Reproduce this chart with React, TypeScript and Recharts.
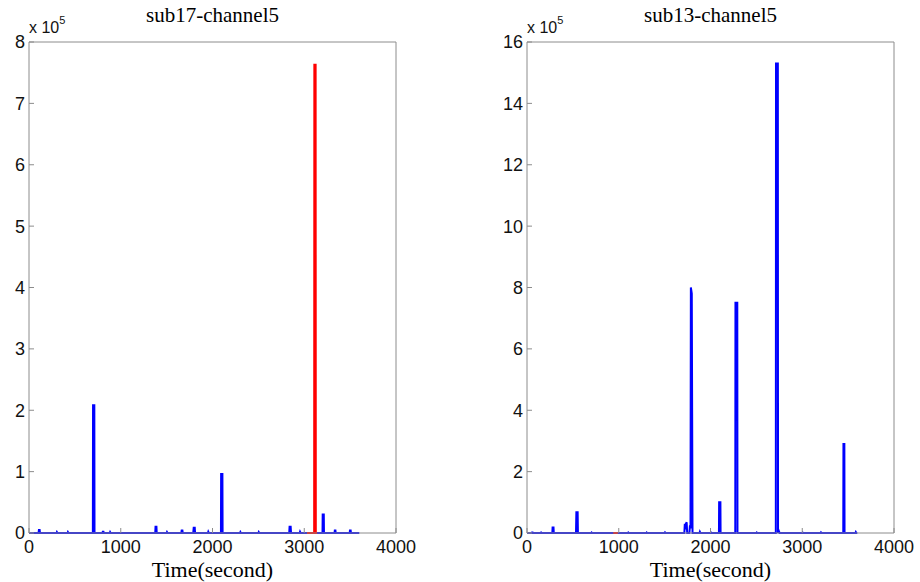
import { LineChart, Line, XAxis, YAxis } from 'recharts'

// [time (s), amplitude (x 1e5)]
const sub17Blue: [number, number][] = [
  [0, 0], [104, 0], [108, 0.05], [116, 0.05], [120, 0],
  [300, 0], [304, 0.015], [310, 0], [420, 0], [424, 0.015], [430, 0],
  [696, 0], [698, 2.08], [712, 2.08], [714, 0],
  [800, 0], [804, 0.02], [812, 0.02], [816, 0], [880, 0], [884, 0.015], [890, 0],
  [1376, 0], [1379, 0.1], [1389, 0.1], [1392, 0],
  [1500, 0], [1504, 0.015], [1510, 0],
  [1660, 0], [1664, 0.04], [1672, 0.04], [1676, 0],
  [1790, 0], [1796, 0.1], [1800, 0.05], [1806, 0.1], [1810, 0],
  [1950, 0], [1954, 0.02], [1960, 0],
  [2092, 0], [2094, 0.96], [2108, 0.96], [2110, 0],
  [2300, 0], [2304, 0.015], [2310, 0], [2500, 0], [2504, 0.015], [2510, 0],
  [2836, 0], [2840, 0.1], [2852, 0.1], [2856, 0],
  [2950, 0], [2954, 0.02], [2960, 0],
  [3199, 0], [3201, 0.3], [3213, 0.3], [3215, 0],
  [3330, 0], [3333, 0.04], [3340, 0.04], [3343, 0],
  [3495, 0], [3498, 0.04], [3506, 0.04], [3509, 0],
  [3600, 0],
]

const sub17Red: [number, number][] = [
  [3030, 0], [3108, 0], [3109, 3.8], [3110, 7.63], [3124, 7.63], [3125, 3.8], [3126, 0], [3140, 0],
]

const sub13Blue: [number, number][] = [
  [0, 0], [50, 0], [54, 0.02], [62, 0.02], [66, 0],
  [150, 0], [154, 0.015], [160, 0],
  [276, 0], [279, 0.18], [289, 0.18], [292, 0],
  [534, 0], [536, 0.35], [538, 0.68], [552, 0.68], [555, 0],
  [700, 0], [704, 0.015], [710, 0],
  [1100, 0], [1104, 0.015], [1110, 0], [1300, 0], [1304, 0.015], [1310, 0],
  [1500, 0], [1504, 0.02], [1510, 0],
  [1715, 0], [1720, 0.3], [1726, 0.12], [1732, 0.3], [1740, 0.35], [1746, 0],
  [1770, 0], [1776, 0.25], [1782, 0.15],
  [1786, 8.0], [1796, 7.8], [1800, 3.9], [1804, 0],
  [1880, 0], [1884, 0.04], [1890, 0],
  [2000, 0], [2004, 0.02], [2010, 0],
  [2092, 0], [2094, 1.0], [2108, 1.0], [2110, 0],
  [2270, 0], [2272, 7.5], [2292, 7.5], [2294, 0],
  [2500, 0], [2504, 0.015], [2510, 0],
  [2712, 0], [2714, 15.3], [2734, 15.3], [2736, 0], [2746, 0.06], [2754, 0],
  [3000, 0], [3004, 0.015], [3010, 0], [3200, 0], [3204, 0.02], [3210, 0],
  [3447, 0], [3449, 2.9], [3459, 2.9], [3461, 0],
  [3580, 0], [3584, 0.03], [3590, 0], [3600, 0],
]

const sub13Red: [number, number][] = [[940, 0], [990, 0]]

const xTicks = [0, 1000, 2000, 3000, 4000]
const sub17YTicks = [0, 1, 2, 3, 4, 5, 6, 7, 8]
const sub13YTicks = [0, 2, 4, 6, 8, 10, 12, 14, 16]

const AXIS_COLOR = '#8c8c8c'
const TICK_FONT = { fill: '#111', fontSize: 18, fontFamily: 'Liberation Sans, Arial, sans-serif' }
const SERIF = 'Liberation Serif, Times New Roman, serif'

const toRows = (pts: [number, number][]) => pts.map(([t, v]) => ({ t, v }))

function Panel({
  left, title, blue, red, yMax, yTicks, yAxisWidth, rightMargin,
}: {
  left: number
  title: string
  blue: [number, number][]
  red: [number, number][]
  yMax: number
  yTicks: number[]
  yAxisWidth: number
  rightMargin: number
}) {
  return (
    <div style={{ position: 'absolute', left, top: 0 }}>
      <LineChart width={460} height={582} margin={{ top: 41, right: rightMargin, bottom: 0, left: 0 }}>
        <XAxis
          xAxisId="bottom"
          dataKey="t"
          type="number"
          domain={[0, 4000]}
          ticks={xTicks}
          height={49}
          tickSize={-5}
          tickMargin={12}
          stroke={AXIS_COLOR}
          tick={TICK_FONT}
          label={{
            value: 'Time(second)',
            position: 'insideBottom',
            offset: 5,
            fill: '#000',
            fontSize: 22,
            fontFamily: SERIF,
          }}
        />
        <XAxis
          xAxisId="top"
          orientation="top"
          dataKey="t"
          type="number"
          domain={[0, 4000]}
          ticks={xTicks}
          height={1}
          tickSize={-5}
          stroke={AXIS_COLOR}
          tickFormatter={() => ''}
          label={{
            value: title,
            position: 'top',
            offset: 19,
            fill: '#000',
            fontSize: 21,
            fontFamily: SERIF,
          }}
        />
        <YAxis
          yAxisId="left"
          domain={[0, yMax]}
          ticks={yTicks}
          width={yAxisWidth}
          tickSize={-5}
          tickMargin={9}
          stroke={AXIS_COLOR}
          tick={TICK_FONT}
          label={{
            content: ({ viewBox }: any) => {
              const x = viewBox.x + viewBox.width
              return (
                <text x={x} y={33} fill="#111" fontFamily="Liberation Sans, Arial, sans-serif" fontSize={16}>
                  x 10
                  <tspan dy={-9} fontSize={11}>5</tspan>
                </text>
              )
            },
          }}
        />
        <YAxis
          yAxisId="right"
          orientation="right"
          domain={[0, yMax]}
          ticks={yTicks}
          width={1}
          tickSize={-5}
          stroke={AXIS_COLOR}
          tickFormatter={() => ''}
        />
        <Line
          xAxisId="bottom"
          yAxisId="left"
          data={toRows(blue)}
          dataKey="v"
          type="linear"
          stroke="#0000ff"
          strokeWidth={2}
          dot={false}
          activeDot={false}
          isAnimationActive={false}
        />
        <Line
          xAxisId="bottom"
          yAxisId="left"
          data={toRows(red)}
          dataKey="v"
          type="linear"
          stroke="#ff0000"
          strokeWidth={2}
          dot={false}
          activeDot={false}
          isAnimationActive={false}
        />
      </LineChart>
    </div>
  )
}

export default function App() {
  return (
    <div style={{ position: 'absolute', left: 0, top: 0, width: 920, height: 582, background: '#fff' }}>
      <Panel
        left={0}
        title="sub17-channel5"
        blue={sub17Blue}
        red={sub17Red}
        yMax={8}
        yTicks={sub17YTicks}
        yAxisWidth={29}
        rightMargin={63}
      />
      <Panel
        left={460}
        title="sub13-channel5"
        blue={sub13Blue}
        red={sub13Red}
        yMax={16}
        yTicks={sub13YTicks}
        yAxisWidth={67}
        rightMargin={25}
      />
    </div>
  )
}
